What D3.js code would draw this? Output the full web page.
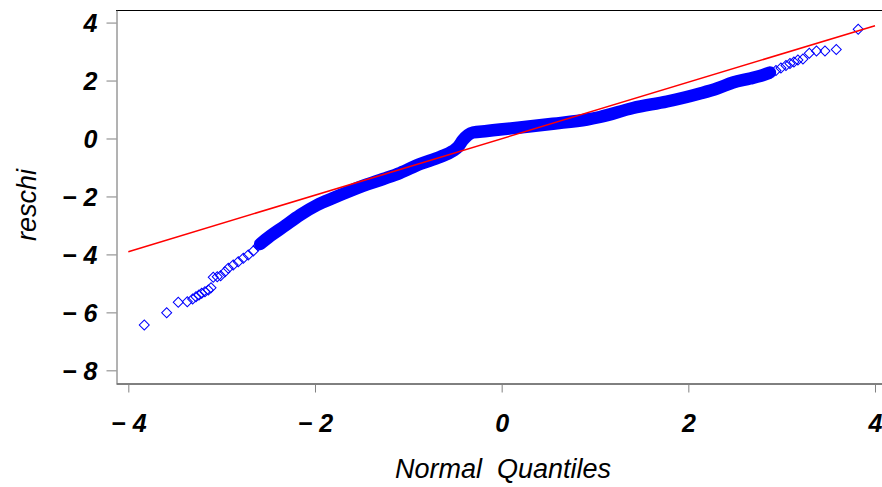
<!DOCTYPE html>
<html>
<head>
<meta charset="utf-8">
<script src="https://cdn.jsdelivr.net/npm/d3@7"></script>
<style>
  html, body { margin: 0; padding: 0; background: #fff; }
  svg { display: block; }
  text { font-family: "Liberation Sans", Arial, Helvetica, sans-serif; }
</style>
</head>
<body>
<div id="chart"></div>
<script>
// ---- Data ----
// lower tail: individual diamonds
const lowTailX = [-3.829, -3.589, -3.465, -3.368, -3.311, -3.275, -3.243, -3.214, -3.179, -3.143, -3.114, -3.090, -3.047, -3.011, -2.964, -2.929, -2.876, -2.822, -2.768, -2.715, -2.661, -2.608];
const lowTailY = [-6.436, -6.011, -5.652, -5.631, -5.538, -5.459, -5.400, -5.342, -5.286, -5.228, -5.148, -4.790, -4.769, -4.734, -4.596, -4.479, -4.365, -4.251, -4.134, -4.020, -3.882, -3.699];
// dense middle band (thousands of overlapping diamonds)
const bandX = [-2.587, -2.480, -2.341, -2.159, -1.977, -1.806, -1.624, -1.442, -1.270, -1.088, -0.875, -0.661, -0.522, -0.468, -0.415, -0.361, -0.308, -0.158, -0.018, 0.196, 0.550, 0.914, 1.053, 1.407, 1.771, 2.124, 2.307, 2.478, 2.660, 2.767, 2.874];
const bandY = [-3.640, -3.364, -3.054, -2.640, -2.295, -2.053, -1.812, -1.587, -1.398, -1.190, -0.880, -0.638, -0.431, -0.293, -0.052, 0.121, 0.207, 0.259, 0.311, 0.380, 0.510, 0.656, 0.742, 1.052, 1.277, 1.553, 1.725, 1.932, 2.070, 2.157, 2.277];
// upper tail: individual diamonds
const highTailX = [2.939, 2.992, 3.046, 3.089, 3.131, 3.174, 3.228, 3.296, 3.373, 3.464, 3.585, 3.820];
const highTailY = [2.346, 2.433, 2.519, 2.588, 2.640, 2.709, 2.743, 2.940, 3.019, 3.019, 3.071, 3.768];
// reference line end points
const refX = [-4, 4];
const refY = [-3.906, 3.892];
// axis ticks
const xTicks = [-4, -2, 0, 2, 4];
const yTicks = [4, 2, 0, -2, -4, -6, -8];

// ---- Layout ----
const W = 882, H = 487;
const mLeft = 116, mRight = 882, mTop = 10, mBottom = 383;

const svg = d3.select("#chart").append("svg")
  .attr("width", W).attr("height", H);

const x = d3.scaleLinear().domain([-4.132, 4.075]).range([mLeft, mRight]);
const y = d3.scaleLinear().domain([-8.437, 4.434]).range([mBottom, mTop]);

const fmt = d => d < 0 ? "\u2212 " + Math.abs(d) : String(d);

// top frame line
svg.append("line")
  .attr("x1", mLeft).attr("x2", mRight)
  .attr("y1", mTop + 0.5).attr("y2", mTop + 0.5)
  .attr("stroke", "#000").attr("stroke-width", 1);

// x axis
const gx = svg.append("g")
  .attr("transform", `translate(0,${mBottom + 0.5})`)
  .call(d3.axisBottom(x).tickValues(xTicks).tickSize(9).tickSizeOuter(0).tickFormat(fmt));
gx.select(".domain").attr("stroke", "#000").attr("stroke-width", 1);
gx.selectAll(".tick line").attr("stroke", "#808080").attr("stroke-width", 1);
gx.selectAll(".tick text")
  .attr("y", 48).attr("dy", 0)
  .attr("fill", "#000")
  .style("white-space", "pre")
  .style("font-size", "25px").style("font-weight", "bold").style("font-style", "italic");

// y axis
const gy = svg.append("g")
  .attr("transform", `translate(${mLeft + 0.5},0)`)
  .call(d3.axisLeft(y).tickValues(yTicks).tickSize(10).tickSizeOuter(0).tickFormat(fmt));
gy.select(".domain").attr("stroke", "#666").attr("stroke-width", 1);
gy.selectAll(".tick line").attr("stroke", "#808080").attr("stroke-width", 1);
gy.selectAll(".tick text")
  .attr("x", -19).attr("dy", "0.36em")
  .attr("fill", "#000")
  .style("white-space", "pre")
  .style("font-size", "25px").style("font-weight", "bold").style("font-style", "italic");

// axis titles
svg.append("text")
  .attr("x", 503).attr("y", 478)
  .attr("text-anchor", "middle")
  .style("font-size", "27px").style("font-style", "italic")
  .style("white-space", "pre")
  .text("Normal  Quantiles");

svg.append("text")
  .attr("transform", "translate(36,205) rotate(-90)")
  .attr("text-anchor", "middle")
  .style("font-size", "27px").style("font-style", "italic")
  .text("reschi");

// ---- Marks ----
const plot = svg.append("g");

// dense band of overlapping diamonds
const band = bandX.map((v, i) => [v, bandY[i]]);
plot.append("path")
  .datum(band)
  .attr("d", d3.line().x(d => x(d[0])).y(d => y(d[1])).curve(d3.curveMonotoneX))
  .attr("fill", "none")
  .attr("stroke", "#0000ff")
  .attr("stroke-width", 12.5)
  .attr("stroke-linejoin", "round")
  .attr("stroke-linecap", "round");

const pts = []
  .concat(lowTailX.map((v, i) => [v, lowTailY[i]]))
  .concat(band)
  .concat(highTailX.map((v, i) => [v, highTailY[i]]));

const diamond = d3.symbol().type(d3.symbolSquare).size(50);
plot.selectAll("path.pt")
  .data(pts)
  .join("path")
  .attr("class", "pt")
  .attr("d", diamond)
  .attr("transform", d => `translate(${x(d[0])},${y(d[1])}) rotate(45)`)
  .attr("fill", "none")
  .attr("stroke", "#0000ff")
  .attr("stroke-width", 1);

// reference line
plot.append("line")
  .attr("x1", x(refX[0])).attr("y1", y(refY[0]))
  .attr("x2", x(refX[1])).attr("y2", y(refY[1]))
  .attr("stroke", "#ff0000")
  .attr("stroke-width", 1.5);
</script>
</body>
</html>
